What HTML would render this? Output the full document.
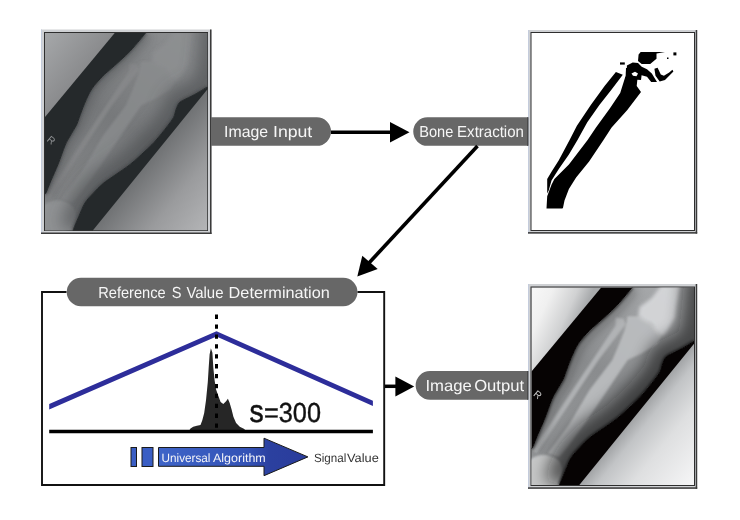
<!DOCTYPE html>
<html><head><meta charset="utf-8">
<style>
html,body{margin:0;padding:0;background:#fff;width:740px;height:520px;overflow:hidden}
svg{display:block;font-family:"Liberation Sans",sans-serif}
text{text-rendering:geometricPrecision}
</style></head>
<body>
<svg width="740" height="520" viewBox="0 0 740 520" style="will-change:transform">
<defs>
  <filter id="bl5" x="-30%" y="-30%" width="160%" height="160%"><feGaussianBlur stdDeviation="5"/></filter>
  <filter id="bl3" x="-30%" y="-30%" width="160%" height="160%"><feGaussianBlur stdDeviation="3"/></filter>
  <filter id="bl8" x="-30%" y="-30%" width="160%" height="160%"><feGaussianBlur stdDeviation="8"/></filter>
  <filter id="bl2" x="-20%" y="-20%" width="140%" height="140%"><feGaussianBlur stdDeviation="1.8"/></filter>
  <filter id="bl1" x="-20%" y="-20%" width="140%" height="140%"><feGaussianBlur stdDeviation="1"/></filter>
  <linearGradient id="blueBody" gradientUnits="userSpaceOnUse" x1="158" y1="0" x2="308" y2="0">
    <stop offset="0" stop-color="#3e64c8"/><stop offset="0.6" stop-color="#3352b6"/><stop offset="0.75" stop-color="#2b409f"/><stop offset="1" stop-color="#2a3c9c"/>
  </linearGradient>
</defs>

<!-- FRAME 1 -->
<rect x="41" y="29.5" width="170.5" height="204.5" fill="#cfd1d4"/><rect x="41" y="29.5" width="1" height="204.5" fill="#c4ccdc"/><rect x="210.0" y="29.5" width="1.5" height="204.5" fill="#3a3a3a"/><rect x="41" y="232.5" width="170.5" height="1.5" fill="#3a3a3a"/>
<rect x="44.5" y="32.5" width="163" height="198" fill="none" stroke="#2e2e2e" stroke-width="1"/>
<svg x="45" y="33" width="162.5" height="197.5" viewBox="0 0 162.5 197.5">
<defs>
<linearGradient id="uli" gradientUnits="userSpaceOnUse" x1="0" y1="0" x2="41.3" y2="34.3"><stop offset="0" stop-color="#a6a8aa"/><stop offset="1" stop-color="#8a8b8d"/></linearGradient>
<linearGradient id="lri" gradientUnits="userSpaceOnUse" x1="93.4" y1="141.4" x2="162.5" y2="197.5"><stop offset="0" stop-color="#707274"/><stop offset="0.5" stop-color="#9a9b9d"/><stop offset="1" stop-color="#b4b5b7"/></linearGradient>
<linearGradient id="legi" gradientUnits="userSpaceOnUse" x1="140" y1="10" x2="30" y2="180"><stop offset="0" stop-color="#8a8c8e"/><stop offset="0.5" stop-color="#77797b"/><stop offset="1" stop-color="#828486"/></linearGradient>
<clipPath id="clipi"><path d="M162.50,53.90 C160.35,55.18 153.55,59.42 149.60,61.60 C145.65,63.78 141.37,65.60 138.80,67.00 C136.23,68.40 135.47,68.47 134.20,70.00 C132.93,71.53 132.13,73.78 131.20,76.20 C130.27,78.62 129.97,81.80 128.60,84.50 C127.23,87.20 124.97,89.77 123.00,92.40 C121.03,95.03 119.13,97.45 116.80,100.30 C114.47,103.15 111.80,106.52 109.00,109.50 C106.20,112.48 103.92,114.58 100.00,118.20 C96.08,121.82 90.62,127.13 85.50,131.20 C80.38,135.27 73.88,139.37 69.30,142.60 C64.72,145.83 61.50,147.67 58.00,150.60 C54.50,153.53 51.30,156.97 48.30,160.20 C45.30,163.43 42.38,166.17 40.00,170.00 C37.62,173.83 35.63,179.53 34.00,183.20 C32.37,186.87 31.20,189.62 30.20,192.00 C29.20,194.38 28.37,196.58 28.00,197.50 L0,199 L-2,199 L-2,161 0.00,161.00 C0.22,160.68 0.30,161.37 1.30,159.10 C2.30,156.83 4.03,152.08 6.00,147.40 C7.97,142.72 10.75,136.87 13.10,131.00 C15.45,125.13 18.12,116.87 20.10,112.20 C22.08,107.53 23.12,106.37 25.00,103.00 C26.88,99.63 29.88,95.03 31.40,92.00 C32.92,88.97 32.73,88.42 34.10,84.80 C35.47,81.18 37.48,75.13 39.60,70.30 C41.72,65.47 43.80,60.32 46.80,55.80 C49.80,51.28 54.65,46.33 57.60,43.20 C60.55,40.07 61.57,39.62 64.50,37.00 C67.43,34.38 71.75,30.67 75.20,27.50 C78.65,24.33 81.95,21.42 85.20,18.00 C88.45,14.58 92.15,10.00 94.70,7.00 C97.25,4.00 99.53,1.17 100.50,0.00 L101,-2 L164,-2 L164,53.9 Z"/></clipPath>
</defs>
<rect width="162.5" height="197.5" fill="#25292b"/>
<polygon points="0,0 69.7,0 0,84" fill="url(#uli)"/>
<polygon points="162.5,56.2 162.5,197.5 47.8,197.5" fill="url(#lri)"/>
<g clip-path="url(#clipi)">
<rect width="162.5" height="197.5" fill="url(#legi)"/>
<g filter="url(#bl1)" opacity="0.8">
<polygon points="95.8,28.7 106.6,28.7 120.4,36.4 129.7,49.5 125.5,56.4 110,66 96.2,72.5 75,104 54.7,134 36.8,158.5 27.5,169.6 16.3,165.9 37.7,137.1 58,102.5 80.8,72.5 86.2,60.1 93.1,42.8 95.5,33.3" fill="#8a8c8e"/>
<polygon points="84,30 92,31 94,37 67,72.5 47,102.5 5,166 1,163 41,102.5 61,72.5 84,38" fill="#88898b"/>
<polygon points="129.7,-2 148.5,-2 145,18 143.5,30.3 134.3,45.7 129.7,49.5 123.5,42.6 120.4,36.4 112.7,33.3 106.6,28.7 108.1,19.5 120.4,10.3" fill="#8e9092" filter="url(#bl2)"/>
<path d="M-2,173 C4,166 20,165 28,174 C32,180 31,190 28,199.5 L-2,199.5 Z" fill="#949698"/>
</g>
<g filter="url(#bl5)" fill="none" stroke="#3a3d3f" stroke-width="14" opacity="0.3">
<path d="M100.50,0.00 C99.53,1.17 97.25,4.00 94.70,7.00 C92.15,10.00 88.45,14.58 85.20,18.00 C81.95,21.42 78.65,24.33 75.20,27.50 C71.75,30.67 67.43,34.38 64.50,37.00 C61.57,39.62 60.55,40.07 57.60,43.20 C54.65,46.33 49.80,51.28 46.80,55.80 C43.80,60.32 41.72,65.47 39.60,70.30 C37.48,75.13 35.47,81.18 34.10,84.80 C32.73,88.42 32.92,88.97 31.40,92.00 C29.88,95.03 26.88,99.63 25.00,103.00 C23.12,106.37 22.08,107.53 20.10,112.20 C18.12,116.87 15.45,125.13 13.10,131.00 C10.75,136.87 7.97,142.72 6.00,147.40 C4.03,152.08 2.30,156.83 1.30,159.10 C0.30,161.37 0.22,160.68 0.00,161.00"/>
</g>
<g filter="url(#bl8)" fill="none" stroke="#3a3d3f" stroke-width="30" opacity="0.5">
<path d="M170.00,-12.00 C169.50,-6.33 168.00,12.17 167.00,22.00 C166.00,31.83 164.75,41.68 164.00,47.00 C163.25,52.32 164.90,51.47 162.50,53.90 C160.10,56.33 153.55,59.42 149.60,61.60 C145.65,63.78 141.37,65.60 138.80,67.00 C136.23,68.40 135.47,68.47 134.20,70.00 C132.93,71.53 132.13,73.78 131.20,76.20 C130.27,78.62 129.97,81.80 128.60,84.50 C127.23,87.20 124.97,89.77 123.00,92.40 C121.03,95.03 119.13,97.45 116.80,100.30 C114.47,103.15 111.80,106.52 109.00,109.50 C106.20,112.48 103.92,114.58 100.00,118.20 C96.08,121.82 90.62,127.13 85.50,131.20 C80.38,135.27 73.88,139.37 69.30,142.60 C64.72,145.83 61.50,147.67 58.00,150.60 C54.50,153.53 51.30,156.97 48.30,160.20 C45.30,163.43 42.38,166.17 40.00,170.00 C37.62,173.83 35.63,179.53 34.00,183.20 C32.37,186.87 31.20,189.62 30.20,192.00 C29.20,194.38 28.37,196.58 28.00,197.50"/>
</g>
<g filter="url(#bl2)" fill="none" stroke="#3a3d3f" stroke-width="2">
<path d="M162.50,53.90 C160.35,55.18 153.55,59.42 149.60,61.60 C145.65,63.78 141.37,65.60 138.80,67.00 C136.23,68.40 135.47,68.47 134.20,70.00 C132.93,71.53 132.13,73.78 131.20,76.20 C130.27,78.62 129.97,81.80 128.60,84.50 C127.23,87.20 124.97,89.77 123.00,92.40 C121.03,95.03 119.13,97.45 116.80,100.30 C114.47,103.15 111.80,106.52 109.00,109.50 C106.20,112.48 103.92,114.58 100.00,118.20 C96.08,121.82 90.62,127.13 85.50,131.20 C80.38,135.27 73.88,139.37 69.30,142.60 C64.72,145.83 61.50,147.67 58.00,150.60 C54.50,153.53 51.30,156.97 48.30,160.20 C45.30,163.43 42.38,166.17 40.00,170.00 C37.62,173.83 35.63,179.53 34.00,183.20 C32.37,186.87 31.20,189.62 30.20,192.00 C29.20,194.38 28.37,196.58 28.00,197.50"/>
<path d="M100.50,0.00 C99.53,1.17 97.25,4.00 94.70,7.00 C92.15,10.00 88.45,14.58 85.20,18.00 C81.95,21.42 78.65,24.33 75.20,27.50 C71.75,30.67 67.43,34.38 64.50,37.00 C61.57,39.62 60.55,40.07 57.60,43.20 C54.65,46.33 49.80,51.28 46.80,55.80 C43.80,60.32 41.72,65.47 39.60,70.30 C37.48,75.13 35.47,81.18 34.10,84.80 C32.73,88.42 32.92,88.97 31.40,92.00 C29.88,95.03 26.88,99.63 25.00,103.00 C23.12,106.37 22.08,107.53 20.10,112.20 C18.12,116.87 15.45,125.13 13.10,131.00 C10.75,136.87 7.97,142.72 6.00,147.40 C4.03,152.08 2.30,156.83 1.30,159.10 C0.30,161.37 0.22,160.68 0.00,161.00"/>
</g>
</g>
<path d="M162.50,53.90 C160.35,55.18 153.55,59.42 149.60,61.60 C145.65,63.78 141.37,65.60 138.80,67.00 C136.23,68.40 135.47,68.47 134.20,70.00 C132.93,71.53 132.13,73.78 131.20,76.20 C130.27,78.62 129.97,81.80 128.60,84.50 C127.23,87.20 124.97,89.77 123.00,92.40 C121.03,95.03 119.13,97.45 116.80,100.30 C114.47,103.15 111.80,106.52 109.00,109.50 C106.20,112.48 103.92,114.58 100.00,118.20 C96.08,121.82 90.62,127.13 85.50,131.20 C80.38,135.27 73.88,139.37 69.30,142.60 C64.72,145.83 61.50,147.67 58.00,150.60 C54.50,153.53 51.30,156.97 48.30,160.20 C45.30,163.43 42.38,166.17 40.00,170.00 C37.62,173.83 35.63,179.53 34.00,183.20 C32.37,186.87 31.20,189.62 30.20,192.00 C29.20,194.38 28.37,196.58 28.00,197.50" fill="none" stroke="#25292b" stroke-width="1"/>
<path d="M100.50,0.00 C99.53,1.17 97.25,4.00 94.70,7.00 C92.15,10.00 88.45,14.58 85.20,18.00 C81.95,21.42 78.65,24.33 75.20,27.50 C71.75,30.67 67.43,34.38 64.50,37.00 C61.57,39.62 60.55,40.07 57.60,43.20 C54.65,46.33 49.80,51.28 46.80,55.80 C43.80,60.32 41.72,65.47 39.60,70.30 C37.48,75.13 35.47,81.18 34.10,84.80 C32.73,88.42 32.92,88.97 31.40,92.00 C29.88,95.03 26.88,99.63 25.00,103.00 C23.12,106.37 22.08,107.53 20.10,112.20 C18.12,116.87 15.45,125.13 13.10,131.00 C10.75,136.87 7.97,142.72 6.00,147.40 C4.03,152.08 2.30,156.83 1.30,159.10 C0.30,161.37 0.22,160.68 0.00,161.00" fill="none" stroke="#25292b" stroke-width="1"/>
<text transform="translate(1.3,107.4) rotate(40)" font-size="10" fill="#8e9092">R</text>
</svg>

<!-- FRAME 2 -->
<rect x="528" y="30" width="169.20000000000005" height="203.6" fill="#cfd1d4"/><rect x="528" y="30" width="1" height="203.6" fill="#c4ccdc"/><rect x="695.7" y="30" width="1.5" height="203.6" fill="#3a3a3a"/><rect x="528" y="232.1" width="169.20000000000005" height="1.5" fill="#3a3a3a"/>
<rect x="531" y="32.5" width="163.5" height="198" fill="#fff" stroke="#2e2e2e" stroke-width="1"/>
<g fill="#000">
  <polygon points="615.9,72.1 604.6,86 590.8,105 576.9,125.8 569.6,140 558.8,160.2 551.5,171.8 547.2,179 547.2,193.4 548.7,190.5 551.5,180.4 558.8,168.9 568.9,154.4 577.5,140 587.3,122.3 599.4,105 611.6,89.4 622.8,74.7"/>
  <polygon points="625.4,76.4 620.2,92.9 609.8,108.5 596,127.5 587.6,140 568.9,164.5 554.4,179 551.5,184.7 547.2,196.3 546.5,208.6 562.4,208.6 563,207.8 564.5,200.6 568.9,189 576.1,177.5 589.1,161.6 603.5,140 611.6,127.5 627.1,110.2 641,92 636.7,86 637.5,78.2"/>
  <polygon points="640.7,51.9 665,51.9 656.5,53.5 656.5,58.7 650.2,64 641.7,64 638,60.9 638.6,54.5"/>
  <polygon points="626.9,65.6 632.7,62.4 638,63 641.7,66.7 647,69.3 651.8,73.6 657,82 651.2,82 647,76.7 640.7,75.1 635.4,71.4 631.1,76.7 626.9,75.7"/>
  <polygon points="654.4,68.8 657.6,67.7 660.8,74.6 663.9,75.7 669.2,72.5 672.4,69.8 673.4,71.4 669.2,75.7 665,79.9 659.7,81.5 655.5,75.7"/>
  <rect x="620" y="62.4" width="4.8" height="2.2"/>
  <rect x="673.4" y="52.4" width="3" height="3"/>
  <rect x="667" y="57.5" width="1.5" height="1.5"/>
  <polygon points="626,68 636,67 642,72 641,80 625.5,79"/>
</g>
<polygon points="631.5,73.5 635,71.8 638,73.6 636.5,76.2 633,75.8" fill="#fff"/>

<!-- FRAME 3 -->
<rect x="528" y="284" width="169.20000000000005" height="204.8" fill="#cfd1d4"/><rect x="528" y="284" width="1" height="204.8" fill="#c4ccdc"/><rect x="695.7" y="284" width="1.5" height="204.8" fill="#3a3a3a"/><rect x="528" y="487.3" width="169.20000000000005" height="1.5" fill="#3a3a3a"/>
<rect x="531" y="287" width="163.5" height="198.5" fill="none" stroke="#2e2e2e" stroke-width="1"/>
<svg x="531.5" y="287.5" width="162.5" height="197.5" viewBox="0 0 162.5 197.5">
<defs>
<linearGradient id="ulo" gradientUnits="userSpaceOnUse" x1="0" y1="0" x2="52" y2="24"><stop offset="0" stop-color="#f8f8f8"/><stop offset="0.35" stop-color="#f0f0f0"/><stop offset="0.75" stop-color="#d0d1d2"/><stop offset="1" stop-color="#a8aaac"/></linearGradient>
<linearGradient id="lro" gradientUnits="userSpaceOnUse" x1="93.4" y1="141.4" x2="162.5" y2="197.5"><stop offset="0" stop-color="#a2a4a6"/><stop offset="0.15" stop-color="#c2c4c6"/><stop offset="0.45" stop-color="#dedfe0"/><stop offset="1" stop-color="#f6f6f7"/></linearGradient>
<linearGradient id="lego" gradientUnits="userSpaceOnUse" x1="140" y1="10" x2="30" y2="180"><stop offset="0" stop-color="#a6a8aa"/><stop offset="0.5" stop-color="#8a8c8e"/><stop offset="1" stop-color="#949698"/></linearGradient>
<clipPath id="clipo"><path d="M162.50,53.90 C160.35,55.18 153.55,59.42 149.60,61.60 C145.65,63.78 141.37,65.60 138.80,67.00 C136.23,68.40 135.47,68.47 134.20,70.00 C132.93,71.53 132.13,73.78 131.20,76.20 C130.27,78.62 129.97,81.80 128.60,84.50 C127.23,87.20 124.97,89.77 123.00,92.40 C121.03,95.03 119.13,97.45 116.80,100.30 C114.47,103.15 111.80,106.52 109.00,109.50 C106.20,112.48 103.92,114.58 100.00,118.20 C96.08,121.82 90.62,127.13 85.50,131.20 C80.38,135.27 73.88,139.37 69.30,142.60 C64.72,145.83 61.50,147.67 58.00,150.60 C54.50,153.53 51.30,156.97 48.30,160.20 C45.30,163.43 42.38,166.17 40.00,170.00 C37.62,173.83 35.63,179.53 34.00,183.20 C32.37,186.87 31.20,189.62 30.20,192.00 C29.20,194.38 28.37,196.58 28.00,197.50 L0,199 L-2,199 L-2,161 0.00,161.00 C0.22,160.68 0.30,161.37 1.30,159.10 C2.30,156.83 4.03,152.08 6.00,147.40 C7.97,142.72 10.75,136.87 13.10,131.00 C15.45,125.13 18.12,116.87 20.10,112.20 C22.08,107.53 23.12,106.37 25.00,103.00 C26.88,99.63 29.88,95.03 31.40,92.00 C32.92,88.97 32.73,88.42 34.10,84.80 C35.47,81.18 37.48,75.13 39.60,70.30 C41.72,65.47 43.80,60.32 46.80,55.80 C49.80,51.28 54.65,46.33 57.60,43.20 C60.55,40.07 61.57,39.62 64.50,37.00 C67.43,34.38 71.75,30.67 75.20,27.50 C78.65,24.33 81.95,21.42 85.20,18.00 C88.45,14.58 92.15,10.00 94.70,7.00 C97.25,4.00 99.53,1.17 100.50,0.00 L101,-2 L164,-2 L164,53.9 Z"/></clipPath>
</defs>
<rect width="162.5" height="197.5" fill="#060303"/>
<polygon points="0,0 69.7,0 0,84" fill="url(#ulo)"/>
<polygon points="162.5,56.2 162.5,197.5 47.8,197.5" fill="url(#lro)"/>
<g clip-path="url(#clipo)">
<rect width="162.5" height="197.5" fill="url(#lego)"/>
<g filter="url(#bl1)" opacity="0.9">
<polygon points="95.8,28.7 106.6,28.7 120.4,36.4 129.7,49.5 125.5,56.4 110,66 96.2,72.5 75,104 54.7,134 36.8,158.5 27.5,169.6 16.3,165.9 37.7,137.1 58,102.5 80.8,72.5 86.2,60.1 93.1,42.8 95.5,33.3" fill="#bcbec0"/>
<polygon points="84,30 92,31 94,37 67,72.5 47,102.5 5,166 1,163 41,102.5 61,72.5 84,38" fill="#b4b6b8"/>
<polygon points="129.7,-2 148.5,-2 145,18 143.5,30.3 134.3,45.7 129.7,49.5 123.5,42.6 120.4,36.4 112.7,33.3 106.6,28.7 108.1,19.5 120.4,10.3" fill="#d8d9db" filter="url(#bl2)"/>
<path d="M-2,173 C4,166 20,165 28,174 C32,180 31,190 28,199.5 L-2,199.5 Z" fill="#cbcccd"/>
</g>
<g filter="url(#bl5)" fill="none" stroke="#0a0a0a" stroke-width="14" opacity="0.25">
<path d="M100.50,0.00 C99.53,1.17 97.25,4.00 94.70,7.00 C92.15,10.00 88.45,14.58 85.20,18.00 C81.95,21.42 78.65,24.33 75.20,27.50 C71.75,30.67 67.43,34.38 64.50,37.00 C61.57,39.62 60.55,40.07 57.60,43.20 C54.65,46.33 49.80,51.28 46.80,55.80 C43.80,60.32 41.72,65.47 39.60,70.30 C37.48,75.13 35.47,81.18 34.10,84.80 C32.73,88.42 32.92,88.97 31.40,92.00 C29.88,95.03 26.88,99.63 25.00,103.00 C23.12,106.37 22.08,107.53 20.10,112.20 C18.12,116.87 15.45,125.13 13.10,131.00 C10.75,136.87 7.97,142.72 6.00,147.40 C4.03,152.08 2.30,156.83 1.30,159.10 C0.30,161.37 0.22,160.68 0.00,161.00"/>
</g>
<g filter="url(#bl8)" fill="none" stroke="#0a0a0a" stroke-width="34" opacity="0.6">
<path d="M170.00,-12.00 C169.50,-6.33 168.00,12.17 167.00,22.00 C166.00,31.83 164.75,41.68 164.00,47.00 C163.25,52.32 164.90,51.47 162.50,53.90 C160.10,56.33 153.55,59.42 149.60,61.60 C145.65,63.78 141.37,65.60 138.80,67.00 C136.23,68.40 135.47,68.47 134.20,70.00 C132.93,71.53 132.13,73.78 131.20,76.20 C130.27,78.62 129.97,81.80 128.60,84.50 C127.23,87.20 124.97,89.77 123.00,92.40 C121.03,95.03 119.13,97.45 116.80,100.30 C114.47,103.15 111.80,106.52 109.00,109.50 C106.20,112.48 103.92,114.58 100.00,118.20 C96.08,121.82 90.62,127.13 85.50,131.20 C80.38,135.27 73.88,139.37 69.30,142.60 C64.72,145.83 61.50,147.67 58.00,150.60 C54.50,153.53 51.30,156.97 48.30,160.20 C45.30,163.43 42.38,166.17 40.00,170.00 C37.62,173.83 35.63,179.53 34.00,183.20 C32.37,186.87 31.20,189.62 30.20,192.00 C29.20,194.38 28.37,196.58 28.00,197.50"/>
</g>
<g filter="url(#bl2)" fill="none" stroke="#0a0a0a" stroke-width="2">
<path d="M162.50,53.90 C160.35,55.18 153.55,59.42 149.60,61.60 C145.65,63.78 141.37,65.60 138.80,67.00 C136.23,68.40 135.47,68.47 134.20,70.00 C132.93,71.53 132.13,73.78 131.20,76.20 C130.27,78.62 129.97,81.80 128.60,84.50 C127.23,87.20 124.97,89.77 123.00,92.40 C121.03,95.03 119.13,97.45 116.80,100.30 C114.47,103.15 111.80,106.52 109.00,109.50 C106.20,112.48 103.92,114.58 100.00,118.20 C96.08,121.82 90.62,127.13 85.50,131.20 C80.38,135.27 73.88,139.37 69.30,142.60 C64.72,145.83 61.50,147.67 58.00,150.60 C54.50,153.53 51.30,156.97 48.30,160.20 C45.30,163.43 42.38,166.17 40.00,170.00 C37.62,173.83 35.63,179.53 34.00,183.20 C32.37,186.87 31.20,189.62 30.20,192.00 C29.20,194.38 28.37,196.58 28.00,197.50"/>
<path d="M100.50,0.00 C99.53,1.17 97.25,4.00 94.70,7.00 C92.15,10.00 88.45,14.58 85.20,18.00 C81.95,21.42 78.65,24.33 75.20,27.50 C71.75,30.67 67.43,34.38 64.50,37.00 C61.57,39.62 60.55,40.07 57.60,43.20 C54.65,46.33 49.80,51.28 46.80,55.80 C43.80,60.32 41.72,65.47 39.60,70.30 C37.48,75.13 35.47,81.18 34.10,84.80 C32.73,88.42 32.92,88.97 31.40,92.00 C29.88,95.03 26.88,99.63 25.00,103.00 C23.12,106.37 22.08,107.53 20.10,112.20 C18.12,116.87 15.45,125.13 13.10,131.00 C10.75,136.87 7.97,142.72 6.00,147.40 C4.03,152.08 2.30,156.83 1.30,159.10 C0.30,161.37 0.22,160.68 0.00,161.00"/>
</g>
</g>
<path d="M162.50,53.90 C160.35,55.18 153.55,59.42 149.60,61.60 C145.65,63.78 141.37,65.60 138.80,67.00 C136.23,68.40 135.47,68.47 134.20,70.00 C132.93,71.53 132.13,73.78 131.20,76.20 C130.27,78.62 129.97,81.80 128.60,84.50 C127.23,87.20 124.97,89.77 123.00,92.40 C121.03,95.03 119.13,97.45 116.80,100.30 C114.47,103.15 111.80,106.52 109.00,109.50 C106.20,112.48 103.92,114.58 100.00,118.20 C96.08,121.82 90.62,127.13 85.50,131.20 C80.38,135.27 73.88,139.37 69.30,142.60 C64.72,145.83 61.50,147.67 58.00,150.60 C54.50,153.53 51.30,156.97 48.30,160.20 C45.30,163.43 42.38,166.17 40.00,170.00 C37.62,173.83 35.63,179.53 34.00,183.20 C32.37,186.87 31.20,189.62 30.20,192.00 C29.20,194.38 28.37,196.58 28.00,197.50" fill="none" stroke="#060303" stroke-width="1"/>
<path d="M100.50,0.00 C99.53,1.17 97.25,4.00 94.70,7.00 C92.15,10.00 88.45,14.58 85.20,18.00 C81.95,21.42 78.65,24.33 75.20,27.50 C71.75,30.67 67.43,34.38 64.50,37.00 C61.57,39.62 60.55,40.07 57.60,43.20 C54.65,46.33 49.80,51.28 46.80,55.80 C43.80,60.32 41.72,65.47 39.60,70.30 C37.48,75.13 35.47,81.18 34.10,84.80 C32.73,88.42 32.92,88.97 31.40,92.00 C29.88,95.03 26.88,99.63 25.00,103.00 C23.12,106.37 22.08,107.53 20.10,112.20 C18.12,116.87 15.45,125.13 13.10,131.00 C10.75,136.87 7.97,142.72 6.00,147.40 C4.03,152.08 2.30,156.83 1.30,159.10 C0.30,161.37 0.22,160.68 0.00,161.00" fill="none" stroke="#060303" stroke-width="1"/>
<text transform="translate(1.3,107.4) rotate(40)" font-size="10" fill="#c8c8c8">R</text>
</svg>

<!-- LABELS -->
<g fill="#676767">
  <path d="M211,117.3 H316.8 A14.25,14.25 0 0 1 316.8,145.8 H211 Z"/>
  <path d="M427.5,117.3 H528.5 V145.8 H427.5 A14.25,14.25 0 0 1 427.5,117.3 Z"/>
  <path d="M81,277.7 H343.2 A14.3,14.3 0 0 1 343.2,306.3 H81 A14.3,14.3 0 0 1 81,277.7 Z"/>
  <path d="M430,371 H528.5 V399.7 H430 A14.35,14.35 0 0 1 430,371 Z"/>
</g>
<rect x="527" y="117.3" width="1.2" height="28.5" fill="#4a4a4a"/>
<rect x="527" y="371" width="1.2" height="28.7" fill="#4a4a4a"/>
<g fill="#f6f6f6" font-size="16">
  <text x="98.2" y="297.6" textLength="67.48" lengthAdjust="spacingAndGlyphs">Reference</text>
  <text x="171.8" y="297.6" textLength="9.75" lengthAdjust="spacingAndGlyphs">S</text>
  <text x="186.4" y="297.6" textLength="37.1" lengthAdjust="spacingAndGlyphs">Value</text>
  <text x="228.6" y="297.6" textLength="101.24" lengthAdjust="spacingAndGlyphs">Determination</text>
  <text x="224.1" y="137" textLength="44.06" lengthAdjust="spacingAndGlyphs">Image</text>
  <text x="273" y="137" textLength="39.27" lengthAdjust="spacingAndGlyphs">Input</text>
  <text x="419.2" y="136.8" textLength="34.06" lengthAdjust="spacingAndGlyphs">Bone</text>
  <text x="457.1" y="136.8" textLength="66.82" lengthAdjust="spacingAndGlyphs">Extraction</text>
  <text x="425.4" y="390.8" textLength="46.34" lengthAdjust="spacingAndGlyphs">Image</text>
  <text x="474.2" y="390.8" textLength="49.88" lengthAdjust="spacingAndGlyphs">Output</text>
</g>

<!-- ARROWS -->
<line x1="331" y1="132.2" x2="392" y2="132.2" stroke="#000" stroke-width="3.6"/>
<polygon points="390,122 390,142.5 409.5,132.3" fill="#000"/>
<line x1="477.5" y1="146" x2="368" y2="264" stroke="#000" stroke-width="3.6"/>
<polygon points="362.3,255.7 377.7,269.1 357.3,276.5" fill="#000"/>
<line x1="384" y1="386.3" x2="397" y2="386.3" stroke="#000" stroke-width="3.5"/>
<polygon points="395.4,376.5 395.4,396.5 414.2,386.4" fill="#000"/>

<!-- S VALUE BOX -->
<path d="M66.5,292 H42 V485 H384.2 V292 H357.5" fill="none" stroke="#111" stroke-width="1.9"/>
<polygon points="189.5,430 190.5,428.6 193.2,426.7 196.9,425.8 200.5,424.9 202.3,420.3 204.2,413 206,400.3 207.8,382 208.7,367.4 209.6,354.6 210.9,348.2 212.4,352.8 213.3,367.4 214.6,380.2 216,389.3 217.9,394.8 220.6,402.1 223.3,403.9 226.1,401.2 227.9,398.8 229.7,403 231.6,409.4 233.4,416.7 236.1,423.1 239.8,426.7 244.3,429.1 245,430" fill="#262626"/>
<polygon points="49.2,404.1 216.5,331.2 372.9,400.7 372.9,406 216.5,336.5 49.2,409.4" fill="#2d2d9a"/>
<line x1="49.2" y1="431.5" x2="372.9" y2="431.5" stroke="#000" stroke-width="3.7"/>
<line x1="216.5" y1="314.6" x2="216.5" y2="432" stroke="#000" stroke-width="3" stroke-dasharray="4.3 5.6"/>
<text transform="translate(249.5,422.2) scale(0.9,1)" font-size="31.5" fill="#111" stroke="#111" stroke-width="0.5">s</text>
<text x="264" y="422.2" font-size="27.5" fill="#111" stroke="#111" stroke-width="0.4" textLength="57" lengthAdjust="spacingAndGlyphs">=300</text>

<rect x="131" y="447.5" width="5.5" height="19" fill="#3a5ec4" stroke="#1a1a1a" stroke-width="1"/>
<rect x="142" y="447.5" width="11" height="19" fill="#3a5ec4" stroke="#1a1a1a" stroke-width="1"/>
<path d="M158.5,447.5 H264 V438.2 L307.9,456.9 L264,475.7 V466.3 H158.5 Z" fill="url(#blueBody)" stroke="#1a1a1a" stroke-width="1"/>
<text x="161.5" y="462" font-size="12" fill="#f4f4f8" textLength="48.98" lengthAdjust="spacingAndGlyphs">Universal</text>
<text x="213" y="462" font-size="12" fill="#f4f4f8" textLength="52.72" lengthAdjust="spacingAndGlyphs">Algorithm</text>
<text x="314" y="462" font-size="12" fill="#333" textLength="32.33" lengthAdjust="spacingAndGlyphs">Signal</text>
<text x="347" y="462" font-size="12" fill="#333" textLength="31.8" lengthAdjust="spacingAndGlyphs">Value</text>
</svg>
</body></html>
